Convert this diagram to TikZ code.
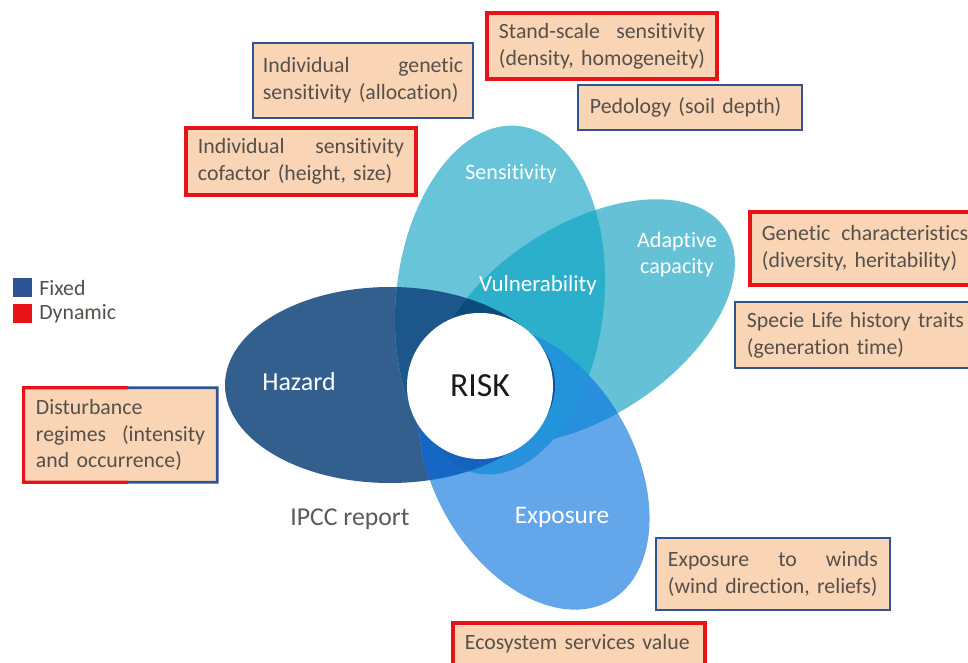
\documentclass[tikz,border=0pt]{standalone}
\usepackage{fontspec}
\setmainfont{Carlito}[Ligatures=NoCommon]
\usetikzlibrary{calc}
\definecolor{peach}{RGB}{250,213,181}
\definecolor{redb}{RGB}{230,20,25}
\definecolor{blueb}{RGB}{47,84,150}
\definecolor{txt}{RGB}{85,80,75}
\definecolor{cH}{RGB}{51,95,143}
\definecolor{cS}{RGB}{104,196,216}
\definecolor{cA}{RGB}{100,193,214}
\definecolor{cE}{RGB}{99,166,233}
\definecolor{cHS}{RGB}{28,86,138}
\definecolor{cHA}{RGB}{22,80,130}
\definecolor{cHE}{RGB}{22,103,196}
\definecolor{cSA}{RGB}{44,175,203}
\definecolor{cSE}{RGB}{40,145,220}
\definecolor{cAE}{RGB}{40,143,220}
\definecolor{cHSA}{RGB}{14,75,125}
\definecolor{cHSE}{RGB}{20,100,190}
\definecolor{cHAE}{RGB}{20,95,180}
\definecolor{cSAE}{RGB}{35,148,217}
\definecolor{cHSAE}{RGB}{15,80,150}
\newcommand\boxfont{\fontsize{15.5}{19}\selectfont}
\newcommand\ellH[1]{\path[#1] (390,385) ellipse [x radius=165, y radius=98];}
\newcommand\ellS[1]{\path[#1,rotate around={84:(500,300)}] (500,300) ellipse [x radius=175, y radius=104];}
\newcommand\ellA[1]{\path[#1,rotate around={33:(583,322)}] (583,322) ellipse [x radius=170, y radius=96];}
\newcommand\ellE[1]{\path[#1,rotate around={-60:(534,468)}] (534,468) ellipse [x radius=153, y radius=100];}
\tikzset{
  pbox/.style={fill=peach, inner xsep=0.3cm, inner ysep=0pt, align=left, text=txt, font=\boxfont, anchor=center},
  rbox/.style={pbox, draw=redb, line width=2.2pt},
  bbox/.style={pbox, draw=blueb, line width=1.9pt},
  lab/.style={text=white, inner sep=0pt},
  legsq/.style={minimum size=0.475cm, inner sep=0pt},
  legtxt/.style={text=txt, anchor=west, inner sep=0pt, font=\boxfont}
}
\begin{document}
\begin{tikzpicture}[x=0.025cm,y=-0.025cm]
\clip (0,0) rectangle (968,663);
\fill[white] (0,0) rectangle (968,663);
% base ellipses
\ellH{fill=cH}
\ellS{fill=cS}
\ellA{fill=cA}
\ellE{fill=cE}
% pairs
\begin{scope}\ellH{clip}\ellS{fill=cHS}\end{scope}
\begin{scope}\ellH{clip}\ellA{fill=cHA}\end{scope}
\begin{scope}\ellH{clip}\ellE{fill=cHE}\end{scope}
\begin{scope}\ellS{clip}\ellA{fill=cSA}\end{scope}
\begin{scope}\ellS{clip}\ellE{fill=cSE}\end{scope}
\begin{scope}\ellA{clip}\ellE{fill=cAE}\end{scope}
% triples
\begin{scope}\ellH{clip}\ellS{clip}\ellA{fill=cHSA}\end{scope}
\begin{scope}\ellH{clip}\ellS{clip}\ellE{fill=cHSE}\end{scope}
\begin{scope}\ellH{clip}\ellA{clip}\ellE{fill=cHAE}\end{scope}
\begin{scope}\ellS{clip}\ellA{clip}\ellE{fill=cSAE}\end{scope}
\begin{scope}\ellH{clip}\ellS{clip}\ellA{clip}\ellE{fill=cHSAE}\end{scope}
% centre
\node[circle, fill=white, minimum size=3.65cm, inner sep=0pt, text={rgb,255:red,25;green,25;blue,25}, font=\fontsize{24}{28}\selectfont] (risk) at (480,386) {RISK};
% labels in petals
\node[lab, font=\fontsize{15.7}{18.5}\selectfont] (sens) at (511,174) {Sensitivity};
\node[lab, align=center, font=\fontsize{15.7}{18.5}\selectfont] (adap) at (677,255) {Adaptive\\capacity};
\node[lab, font=\fontsize{16.3}{19}\selectfont] (vuln) at (538,285) {Vulnerability};
\node[lab, font=\fontsize{18.5}{22}\selectfont] (haz) at (299,382) {Hazard};
\node[lab, font=\fontsize{18}{22}\selectfont] (expo) at (562,517) {Exposure};
\node[inner sep=0pt, text={rgb,255:red,90;green,90;blue,90}, font=\fontsize{18.3}{22}\selectfont] (ipcc) at (350,519) {IPCC report};
% legend
\node[legsq, fill=blueb] (lfix) at (22.5,287.5) {};
\node[legsq, fill=redb] (ldyn) at (22.5,313.5) {};
\node[legtxt] (tfix) at (39,288) {Fixed};
\node[legtxt] (tdyn) at (39,314) {Dynamic};
% boxes
\node[rbox, text width=5.15cm, minimum height=1.65cm] (b1) at (602,46) {Stand-scale\hfill sensitivity\\(density, homogeneity)};
\node[bbox, inner xsep=0.25cm, text width=5.0cm, minimum height=1.875cm] (b2) at (363,80.5) {Individual\hfill genetic\\sensitivity (allocation)};
\node[bbox, text width=5.0cm, minimum height=1.125cm] (b3) at (690,107.5) {Pedology (soil depth)};
\node[rbox, text width=5.15cm, minimum height=1.675cm] (b4) at (301,161.5) {Individual\hfill sensitivity\\cofactor (height, size)};
\node[rbox, text width=5.15cm, minimum height=1.825cm] (b5) at (865,248.5) {Genetic\hfill characteristics\\(diversity, heritability)};
\node[bbox, text width=5.525cm, minimum height=1.65cm] (b6) at (857.5,335) {Specie Life history traits\\(generation time)};
\node[pbox, text width=4.225cm, minimum height=2.35cm] (b7) at (120.5,435) {Disturbance\\regimes\hfill (intensity\\and occurrence)};
\draw[redb, line width=2.2pt, line join=miter] ($(b7.north west)!0.54!(b7.north east)$) -- (b7.north west) -- (b7.south west) -- ($(b7.south west)!0.54!(b7.south east)$);
\draw[blueb, line width=1.9pt, line join=miter] ($(b7.north west)!0.54!(b7.north east)$) -- (b7.north east) -- (b7.south east) -- ($(b7.south west)!0.54!(b7.south east)$);
\node[bbox, text width=5.25cm, minimum height=1.8cm] (b8) at (773,574) {Exposure\hfill to\hfill winds\\(wind direction, reliefs)};
\node[rbox, text width=5.7cm, minimum height=1.05cm] (b9) at (579,644) {Ecosystem services value};
\end{tikzpicture}
\end{document}
